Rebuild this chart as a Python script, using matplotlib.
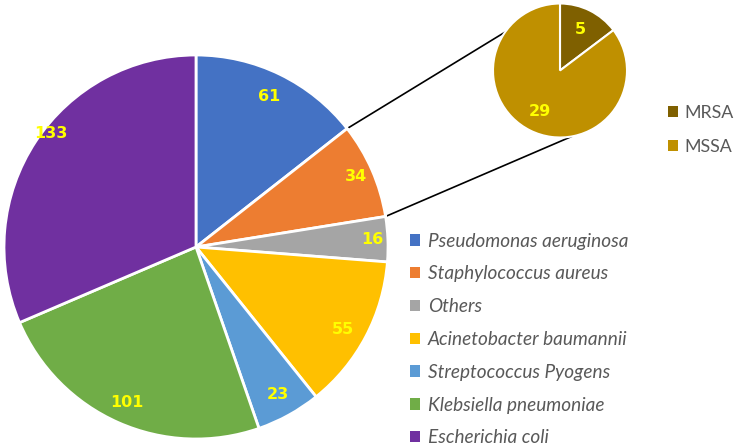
import numpy as np
import matplotlib
matplotlib.use("Agg")
import matplotlib.pyplot as plt
from matplotlib.patches import Patch

# main pie data
organisms = ["Pseudomonas aeruginosa", "Staphylococcus aureus", "Others",
             "Acinetobacter baumannii", "Streptococcus Pyogens",
             "Klebsiella pneumoniae", "Escherichia coli"]
counts = [61, 34, 16, 55, 23, 101, 133]
colors = ["#4472C4", "#ED7D31", "#A5A5A5", "#FFC000", "#5B9BD5", "#70AD47", "#7030A0"]
explode = [0, 0.035, 0.03, 0, 0, 0, 0]

# breakdown of Staphylococcus aureus
staph_types = ["MRSA", "MSSA"]
staph_counts = [5, 29]
staph_colors = ["#7F6000", "#BF9000"]

W, H = 734, 446
fig = plt.figure(figsize=(W / 100, H / 100), dpi=100)
ax = fig.add_axes([0, 0, 1, 1])

font = "Lato"
main_c, main_r = (196, 199), 192
small_c, small_r = (560, 375.5), 67
num_style = dict(color="#FFFF00", fontsize=11.5, fontweight="bold", family="DejaVu Sans",
                 ha="center", va="center")

wedges = ax.pie(counts, colors=colors, startangle=90, counterclock=False,
                explode=explode, center=main_c, radius=main_r,
                wedgeprops=dict(edgecolor="white", linewidth=2))[0]

# label placement (radius fraction, angle nudge) roughly like Excel's best fit
lab_r = [0.87, 0.91, 0.92, 0.88, 0.88, 0.885, 0.96]
lab_da = [0, 0, 0, -1.5, 0, 0, -4.5]
for w, v, fr, da in zip(wedges, counts, lab_r, lab_da):
    a = np.radians((w.theta1 + w.theta2) / 2 + da)
    ax.text(w.center[0] + fr * w.r * np.cos(a), w.center[1] + fr * w.r * np.sin(a),
            str(v), **num_style)

s_wedges = ax.pie(staph_counts, colors=staph_colors, startangle=90,
                  counterclock=False, center=small_c, radius=small_r,
                  wedgeprops=dict(edgecolor="white", linewidth=1.5))[0]
for w, v in zip(s_wedges, staph_counts):
    a = np.radians((w.theta1 + w.theta2) / 2)
    ax.text(w.center[0] + 0.68 * w.r * np.cos(a), w.center[1] + 0.68 * w.r * np.sin(a),
            str(v), **num_style)

ax.set_xlim(0, W)
ax.set_ylim(0, H)
ax.set_aspect("equal")
ax.axis("off")

# connector lines from the staph slice to the breakdown pie
sw = wedges[1]
cx, cy = sw.center
for ang_main, ang_small in [(sw.theta2, 145), (sw.theta1, -80)]:
    p0 = (cx + sw.r * np.cos(np.radians(ang_main)), cy + sw.r * np.sin(np.radians(ang_main)))
    p1 = (small_c[0] + small_r * np.cos(np.radians(ang_small)),
          small_c[1] + small_r * np.sin(np.radians(ang_small)))
    ax.plot([p0[0], p1[0]], [p0[1], p1[1]], color="black", lw=1.2, zorder=0)

h1 = [Patch(facecolor=c, edgecolor="none") for c in colors]
h2 = [Patch(facecolor=c, edgecolor="none") for c in staph_colors]

leg1 = ax.legend(h1, organisms, loc="upper left", bbox_to_anchor=(402 / W, 1 - 225 / H),
                 frameon=False, handlelength=0.55, handleheight=0.55, handletextpad=0.4,
                 labelspacing=0.83, prop=dict(family=font, style="italic", size=13.7),
                 labelcolor="#595959", borderaxespad=0)
ax.add_artist(leg1)
ax.legend(h2, staph_types, loc="upper left", bbox_to_anchor=(661 / W, 1 - 98 / H),
          frameon=False, handlelength=0.55, handleheight=0.55, handletextpad=0.35,
          labelspacing=1.0, prop=dict(family=font, size=12.8), labelcolor="#595959",
          borderaxespad=0)

fig.savefig("out.png", dpi=100)
